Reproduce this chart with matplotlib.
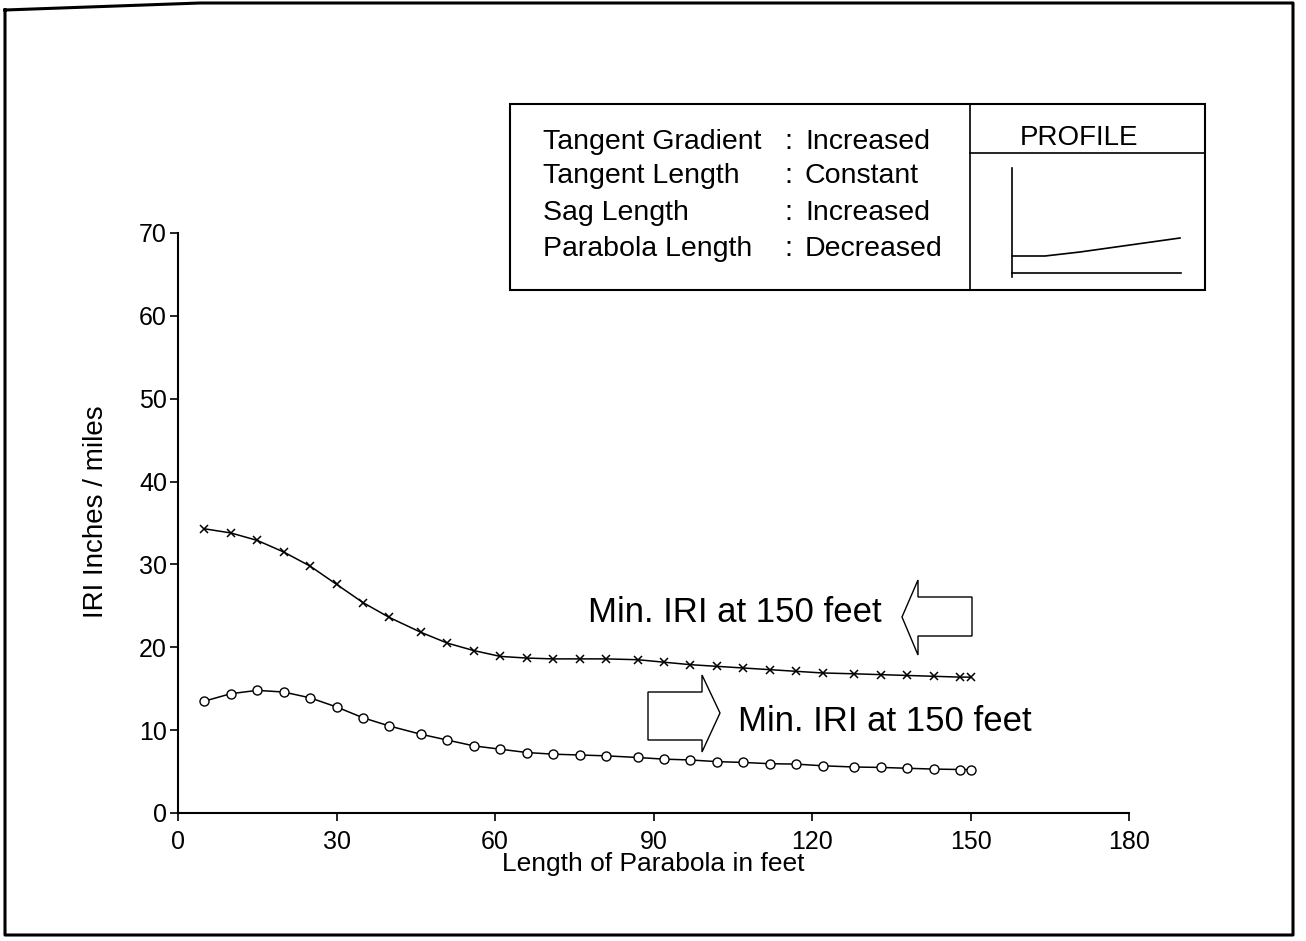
import numpy as np
import matplotlib
matplotlib.use('Agg')
import matplotlib.pyplot as plt
from matplotlib.patches import Polygon, Rectangle
from matplotlib.lines import Line2D

plt.rcParams['font.family'] = ['Liberation Sans', 'DejaVu Sans']

# длина параболы (ft) и IRI для двух кривых
length_ft = [5, 10, 15, 20, 25, 30, 35, 40, 46, 51, 56, 61, 66, 71, 76, 81,
             87, 92, 97, 102, 107, 112, 117, 122, 128, 133, 138, 143, 148, 150]
iri_upper = [34.3, 33.8, 32.9, 31.5, 29.8, 27.6, 25.4, 23.6, 21.8, 20.5, 19.6,
             18.9, 18.7, 18.6, 18.6, 18.6, 18.5, 18.2, 17.9, 17.7, 17.5, 17.3,
             17.1, 16.9, 16.8, 16.7, 16.6, 16.5, 16.4, 16.4]
iri_lower = [13.5, 14.4, 14.8, 14.6, 13.9, 12.8, 11.5, 10.5, 9.5, 8.8, 8.1,
             7.7, 7.3, 7.1, 7.0, 6.9, 6.7, 6.5, 6.4, 6.2, 6.1, 5.95, 5.9, 5.7,
             5.55, 5.5, 5.4, 5.3, 5.25, 5.25]

x_ticks = [0, 30, 60, 90, 120, 150, 180]
y_ticks = [0, 10, 20, 30, 40, 50, 60, 70]

params = ['Tangent Gradient', 'Tangent Length', 'Sag Length', 'Parabola Length']
changes = ['Increased', 'Constant', 'Increased', 'Decreased']
note = 'Min. IRI at 150 feet'

W, H = 1306, 941
fig = plt.figure(figsize=(W / 100, H / 100), dpi=100)
ax = fig.add_axes([178 / W, 1 - 813 / H, 951 / W, 580 / H])


def fp(x, y):
    # пиксели картинки -> доли фигуры
    return (x / W, 1 - y / H)


ax.plot(length_ft, iri_upper, color='black', lw=1.1, marker='x', ms=5.5,
        mew=1.1)
ax.plot(length_ft, iri_lower, color='black', lw=1.1, marker='o', ms=6.5,
        mfc='white', mew=1.0)

ax.set_xlim(0, 180)
ax.set_ylim(0, 70)
ax.set_xticks(x_ticks)
ax.set_yticks(y_ticks)
ax.tick_params(labelsize=18, length=6, width=1.2, direction='out')
ax.tick_params(axis='x', pad=6)
ax.tick_params(axis='y', pad=2)
for s in ['top', 'right']:
    ax.spines[s].set_visible(False)
for s in ['left', 'bottom']:
    ax.spines[s].set_linewidth(1.5)

ax.set_xlabel('Length of Parabola in feet', fontsize=19, labelpad=-1)
ax.set_ylabel('IRI Inches / miles', fontsize=20)
ax.yaxis.set_label_coords(-0.073, 0.52)

# стрелки с подписями
up_arrow = [(902, 617), (918, 580), (918, 597), (972, 597), (972, 636),
            (918, 636), (918, 655)]
low_arrow = [(720, 713), (702, 675), (702, 692), (648, 692), (648, 740),
             (702, 740), (702, 752)]
for pts in [up_arrow, low_arrow]:
    fig.patches.append(Polygon([fp(*p) for p in pts], closed=True,
                               fill=False, ec='black', lw=1.0,
                               transform=fig.transFigure))
fig.text(*fp(882, 622), note, fontsize=25, ha='right', va='baseline')
fig.text(*fp(738, 731), note, fontsize=25, ha='left', va='baseline')

# таблица параметров и профиль
x0, y0 = fp(510, 290)
x1, y1 = fp(1205, 104)
fig.patches.append(Rectangle((x0, y0), x1 - x0, y1 - y0, fill=False,
                             ec='black', lw=1.5, transform=fig.transFigure))
lines = [[(970, 104), (970, 290)],
         [(970, 153), (1205, 153)],
         [(1012, 168), (1012, 277)],
         [(1012, 273), (1181, 273)],
         [(1012, 256), (1045, 256), (1080, 252), (1180, 238)]]
for ln in lines:
    xs = [fp(*p)[0] for p in ln]
    ys = [fp(*p)[1] for p in ln]
    fig.lines.append(Line2D(xs, ys, color='black', lw=1.2,
                            transform=fig.transFigure))

row_y = [149, 183, 220, 256]
for name, val, yy in zip(params, changes, row_y):
    fig.text(*fp(543, yy), name, fontsize=20.5, va='baseline')
    fig.text(*fp(784, yy), ':', fontsize=20.5, va='baseline')
    fig.text(*fp(805, yy), val, fontsize=20.5, va='baseline')
fig.text(*fp(1079, 145), 'PROFILE', fontsize=20, ha='center', va='baseline')

# рамка страницы
frame = [(5, 10), (200, 3), (1293, 3), (1293, 935), (5, 935), (5, 10)]
fig.lines.append(Line2D([fp(*p)[0] for p in frame], [fp(*p)[1] for p in frame],
                        color='black', lw=2.2, transform=fig.transFigure))

fig.savefig('out.png', dpi=100, facecolor='white')
